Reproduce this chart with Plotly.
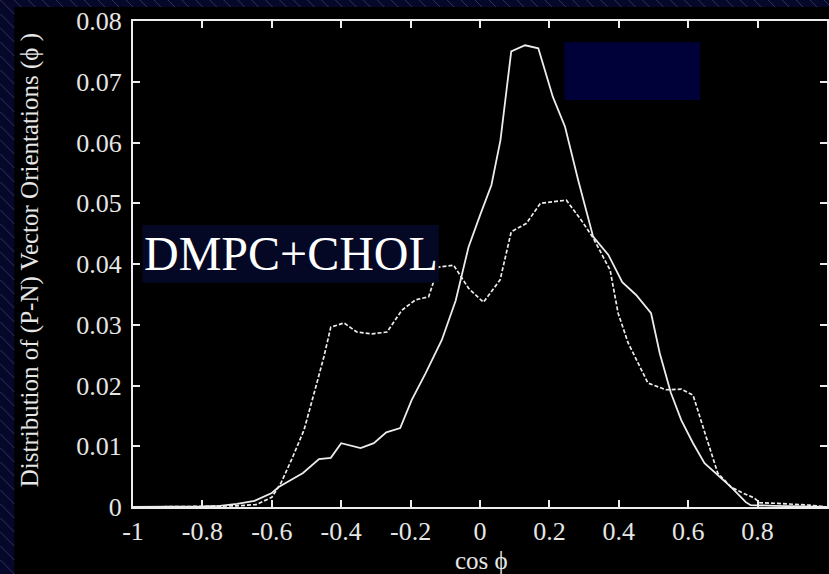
import plotly.graph_objects as go

# ---- data ----
solid_x = [-1.0, -0.9, -0.8, -0.75, -0.7, -0.65, -0.6, -0.58, -0.51, -0.464, -0.43, -0.40,
           -0.344, -0.306, -0.27, -0.23, -0.197, -0.157, -0.11, -0.07, -0.033, 0.0, 0.033,
           0.059, 0.076, 0.09, 0.13, 0.168, 0.21, 0.245, 0.283, 0.326, 0.37, 0.41, 0.45,
           0.493, 0.518, 0.55, 0.58, 0.614, 0.647, 0.685, 0.723, 0.766, 0.78, 0.85, 0.95, 1.0]
solid_y = [0.0, 0.0, 0.0001, 0.0002, 0.0005, 0.001, 0.0023, 0.0033, 0.0056, 0.0079, 0.0081,
           0.0105, 0.0097, 0.0105, 0.0123, 0.013, 0.0176, 0.022, 0.0275, 0.034, 0.0428, 0.048,
           0.053, 0.0604, 0.069, 0.075, 0.076, 0.0755, 0.0675, 0.0626, 0.0538, 0.0445, 0.0415,
           0.037, 0.0349, 0.0319, 0.0253, 0.0188, 0.0143, 0.0105, 0.0072, 0.0053, 0.0033,
           0.0008, 0.0003, 0.0002, 0.0, 0.0]

dashed_x = [-1.0, -0.9, -0.8, -0.7, -0.645, -0.6, -0.573, -0.54, -0.507, -0.473, -0.45, -0.43,
            -0.392, -0.355, -0.31, -0.268, -0.225, -0.186, -0.148, -0.12, -0.076, -0.033,
            0.01, 0.058, 0.09, 0.134, 0.174, 0.249, 0.292, 0.326, 0.375, 0.398, 0.427, 0.484,
            0.536, 0.58, 0.614, 0.652, 0.685, 0.723, 0.757, 0.79, 0.806, 0.858, 0.95, 1.0]
dashed_y = [0.0, 0.0, 0.0001, 0.0002, 0.0004, 0.0016, 0.004, 0.0082, 0.0127, 0.0198, 0.0247,
            0.0296, 0.0303, 0.0288, 0.0285, 0.0288, 0.0324, 0.0341, 0.0346, 0.0395, 0.0398,
            0.036, 0.0337, 0.0374, 0.0453, 0.0467, 0.050, 0.0505, 0.0472, 0.0443, 0.039,
            0.0319, 0.027, 0.0204, 0.0193, 0.0194, 0.0184, 0.0115, 0.0056, 0.0033, 0.0023,
            0.0015, 0.0007, 0.0006, 0.0003, 0.0]

x_tickvals = [-1, -0.8, -0.6, -0.4, -0.2, 0, 0.2, 0.4, 0.6, 0.8, 1]
x_ticktext = ["-1", "-0.8", "-0.6", "-0.4", "-0.2", "0", "0.2", "0.4", "0.6", "0.8", "1"]
y_tickvals = [0, 0.01, 0.02, 0.03, 0.04, 0.05, 0.06, 0.07, 0.08]
y_ticktext = ["0", "0.01", "0.02", "0.03", "0.04", "0.05", "0.06", "0.07", "0.08"]

label_text = "DMPC+CHOL"
x_title = "cos ϕ"
y_title = "Distribution of (P-N) Vector Orientations (ϕ )"

# ---- layout geometry ----
W, H = 829, 574
ML, MR, MT, MB = 133, 0, 21, 67
PW, PH = W - ML - MR, H - MT - MB

def px(x):
    return (x - ML) / PW

def py(y):
    return (H - MB - y) / PH

FONT = "Liberation Serif"
LINE = "#ececec"
TXT = "#e6e6e6"
NAVY = "#06082a"

fig = go.Figure()
fig.add_trace(go.Scatter(x=solid_x, y=solid_y, mode="lines",
                         line=dict(color=LINE, width=1.8), showlegend=False))
fig.add_trace(go.Scatter(x=dashed_x, y=dashed_y, mode="lines",
                         line=dict(color=LINE, width=1.7, dash="4px,2px"), showlegend=False))

shapes = []
# black slide area
shapes.append(dict(type="rect", xref="paper", yref="paper", x0=px(14), x1=px(W + 5),
                   y0=py(H + 5), y1=py(7), fillcolor="black", line=dict(width=0), layer="below"))
# hatch on navy border
hc = "rgba(150,150,200,0.3)"
for k in range(-2, 45):
    y0 = k * 14
    shapes.append(dict(type="line", xref="paper", yref="paper", x0=px(0), y0=py(y0),
                       x1=px(14), y1=py(y0 + 14), line=dict(color=hc, width=1), layer="below"))
for k in range(0, 62):
    x0 = 14 + k * 14
    shapes.append(dict(type="line", xref="paper", yref="paper", x0=px(x0), y0=py(0),
                       x1=px(x0 + 7), y1=py(7), line=dict(color=hc, width=1), layer="below"))
# label box
shapes.append(dict(type="rect", xref="x", yref="y", x0=-0.973, x1=-0.119, y0=0.0369, y1=0.0464,
                   fillcolor="#050824", line=dict(width=0), layer="above"))
# upper-right navy box
shapes.append(dict(type="rect", xref="x", yref="y", x0=0.243, x1=0.634, y0=0.067, y1=0.0765,
                   fillcolor="#01013a", line=dict(width=0), layer="above"))

axis_common = dict(showline=True, linecolor=LINE, linewidth=2, mirror="ticks",
                   ticks="inside", ticklen=7, tickwidth=1.5, tickcolor=LINE,
                   showgrid=False, zeroline=False,
                   tickfont=dict(family=FONT, size=26, color=TXT))

fig.update_layout(
    width=W, height=H,
    margin=dict(l=ML, r=MR, t=MT, b=MB),
    paper_bgcolor=NAVY, plot_bgcolor="black",
    xaxis=dict(range=[-1, 1], tickvals=x_tickvals, ticktext=x_ticktext,
               ticklabelstandoff=0, **axis_common),
    yaxis=dict(range=[0, 0.08], tickvals=y_tickvals, ticktext=y_ticktext,
               ticklabelstandoff=4, **axis_common),
    shapes=shapes,
    annotations=[
        dict(text=label_text, xref="x", yref="y", x=-0.545, y=0.0418, showarrow=False,
             xanchor="center", yanchor="middle",
             font=dict(family=FONT, size=48, color="white")),
        dict(text=x_title, xref="paper", yref="paper", x=px(483), y=py(560), showarrow=False,
             xanchor="center", yanchor="middle",
             font=dict(family=FONT, size=25, color=TXT)),
        dict(text=y_title, xref="paper", yref="paper", x=px(30), y=py(260), showarrow=False,
             textangle=-90, xanchor="center", yanchor="middle",
             font=dict(family=FONT, size=25, color=TXT)),
    ],
)

fig.write_html("out.html")
